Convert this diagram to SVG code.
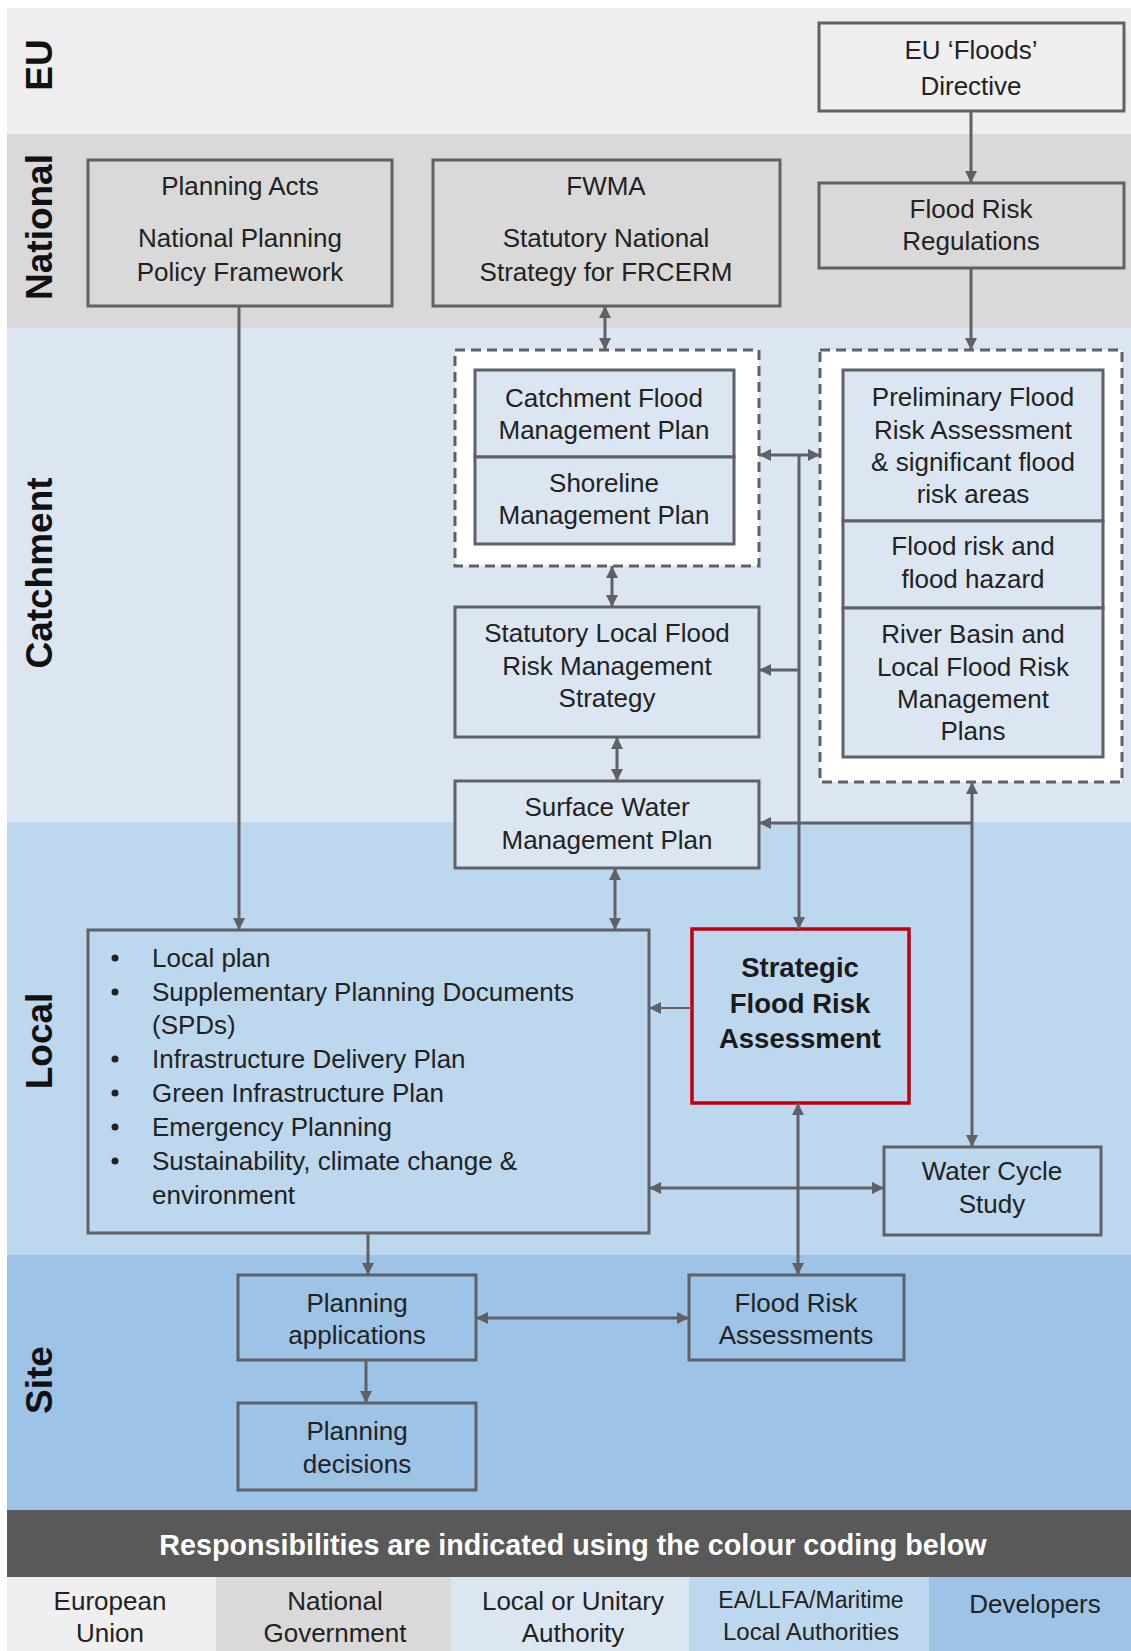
<svg xmlns="http://www.w3.org/2000/svg" width="1131" height="1651" viewBox="0 0 1131 1651">
<style>
text{font-family:"Liberation Sans",Arial,sans-serif;font-size:26px;fill:#222;text-anchor:middle}
.lbl{font-weight:bold;font-size:37px;fill:#111}
.bold{font-weight:bold;font-size:27.5px;fill:#1a1a1a}
.ban{font-weight:bold;font-size:28.7px;fill:#fff}
.left{text-anchor:start}
.box{stroke:#5f6166;stroke-width:3}
.dash{fill:#fff;stroke:#5f6166;stroke-width:3;stroke-dasharray:10 6}
.con line,.con path{stroke:#5f6166;stroke-width:3;fill:none}
</style>
<defs>
<marker id="ah" markerUnits="userSpaceOnUse" markerWidth="12" markerHeight="12" refX="12" refY="6" orient="auto-start-reverse">
<path d="M0,0 L12,6 L0,12 z" fill="#5f6166"/>
</marker>
</defs>
<rect x="0" y="0" width="1131" height="1651" fill="#fff"/>
<g id="bands">
<rect x="7" y="8" width="1124" height="126" fill="#eeeeee"/>
<rect x="7" y="134" width="1124" height="194" fill="#d9d9d9"/>
<rect x="7" y="328" width="1124" height="494" fill="#dce6f2"/>
<rect x="7" y="822" width="1124" height="433" fill="#bdd7ee"/>
<rect x="7" y="1255" width="1124" height="255" fill="#9dc3e6"/>
<text class="lbl" transform="translate(52,65) rotate(-90)">EU</text>
<text class="lbl" transform="translate(52,227) rotate(-90)">National</text>
<text class="lbl" transform="translate(52,573) rotate(-90)">Catchment</text>
<text class="lbl" transform="translate(52,1041) rotate(-90)">Local</text>
<text class="lbl" transform="translate(52,1380) rotate(-90)">Site</text>
</g>
<g id="eu-floods">
<rect class="box" x="819" y="23" width="305" height="88" fill="#efefef"/>
<text x="971" y="59">EU ‘Floods’</text>
<text x="971" y="95">Directive</text>
</g>
<g id="frr">
<rect class="box" x="819" y="183" width="305" height="85" fill="#d9d9d9"/>
<text x="971" y="218">Flood Risk</text>
<text x="971" y="250">Regulations</text>
</g>
<g id="planning-acts">
<rect class="box" x="88" y="160" width="304" height="146" fill="#d9d9d9"/>
<text x="240" y="195">Planning Acts</text>
<text x="240" y="247">National Planning</text>
<text x="240" y="281">Policy Framework</text>
</g>
<g id="fwma">
<rect class="box" x="433" y="160" width="347" height="146" fill="#d9d9d9"/>
<text x="606" y="195">FWMA</text>
<text x="606" y="247">Statutory National</text>
<text x="606" y="281">Strategy for FRCERM</text>
</g>
<g id="cfmp-group">
<rect class="dash" x="455" y="350" width="304" height="216"/>
<rect class="box" x="475" y="370" width="259" height="87" fill="#dce6f2"/>
<rect class="box" x="475" y="457" width="259" height="87" fill="#dce6f2"/>
<text x="604" y="407">Catchment Flood</text>
<text x="604" y="439">Management Plan</text>
<text x="604" y="492">Shoreline</text>
<text x="604" y="524">Management Plan</text>
</g>
<g id="pfra-group">
<rect class="dash" x="820" y="350" width="302" height="432"/>
<rect class="box" x="843" y="370" width="260" height="151" fill="#dce6f2"/>
<rect class="box" x="843" y="521" width="260" height="87" fill="#dce6f2"/>
<rect class="box" x="843" y="608" width="260" height="149" fill="#dce6f2"/>
<text x="973" y="406">Preliminary Flood</text>
<text x="973" y="439">Risk Assessment</text>
<text x="973" y="471">&amp; significant flood</text>
<text x="973" y="503">risk areas</text>
<text x="973" y="555">Flood risk and</text>
<text x="973" y="588">flood hazard</text>
<text x="973" y="643">River Basin and</text>
<text x="973" y="676">Local Flood Risk</text>
<text x="973" y="708">Management</text>
<text x="973" y="740">Plans</text>
</g>
<g id="lfrms">
<rect class="box" x="455" y="607" width="304" height="130" fill="#dce6f2"/>
<text x="607" y="642">Statutory Local Flood</text>
<text x="607" y="675">Risk Management</text>
<text x="607" y="707">Strategy</text>
</g>
<g id="swmp">
<rect class="box" x="455" y="781" width="304" height="87" fill="#dce6f2"/>
<text x="607" y="816">Surface Water</text>
<text x="607" y="849">Management Plan</text>
</g>
<g id="local-plan">
<rect class="box" x="88" y="930" width="561" height="303" fill="#bdd7ee"/>
<g fill="#222">
<circle cx="115" cy="958" r="3.5"/>
<circle cx="115" cy="992" r="3.5"/>
<circle cx="115" cy="1059" r="3.5"/>
<circle cx="115" cy="1093" r="3.5"/>
<circle cx="115" cy="1127" r="3.5"/>
<circle cx="115" cy="1161" r="3.5"/>
</g>
<text class="left" x="152" y="967">Local plan</text>
<text class="left" x="152" y="1001">Supplementary Planning Documents</text>
<text class="left" x="152" y="1034">(SPDs)</text>
<text class="left" x="152" y="1068">Infrastructure Delivery Plan</text>
<text class="left" x="152" y="1102">Green Infrastructure Plan</text>
<text class="left" x="152" y="1136">Emergency Planning</text>
<text class="left" x="152" y="1170">Sustainability, climate change &amp;</text>
<text class="left" x="152" y="1204">environment</text>
</g>
<g id="sfra">
<rect x="692" y="929" width="217" height="174" fill="#bdd7ee" stroke="#c0000c" stroke-width="3.5"/>
<text class="bold" x="800" y="977">Strategic</text>
<text class="bold" x="800" y="1013">Flood Risk</text>
<text class="bold" x="800" y="1048">Assessment</text>
</g>
<g id="wcs">
<rect class="box" x="884" y="1147" width="217" height="88" fill="#bdd7ee"/>
<text x="992" y="1180">Water Cycle</text>
<text x="992" y="1213">Study</text>
</g>
<g id="planning-applications">
<rect class="box" x="238" y="1275" width="238" height="85" fill="#9dc3e6"/>
<text x="357" y="1312">Planning</text>
<text x="357" y="1344">applications</text>
</g>
<g id="fra">
<rect class="box" x="689" y="1275" width="215" height="85" fill="#9dc3e6"/>
<text x="796" y="1312">Flood Risk</text>
<text x="796" y="1344">Assessments</text>
</g>
<g id="planning-decisions">
<rect class="box" x="238" y="1403" width="238" height="87" fill="#9dc3e6"/>
<text x="357" y="1440">Planning</text>
<text x="357" y="1473">decisions</text>
</g>
<g id="connectors" class="con">
<line x1="239" y1="306" x2="239" y2="930" marker-end="url(#ah)"/>
<line x1="971" y1="111" x2="971" y2="183" marker-end="url(#ah)"/>
<line x1="971" y1="268" x2="971" y2="350" marker-end="url(#ah)"/>
<line x1="605" y1="306" x2="605" y2="350" marker-start="url(#ah)" marker-end="url(#ah)"/>
<line x1="759" y1="455" x2="820" y2="455" marker-start="url(#ah)" marker-end="url(#ah)"/>
<line x1="799" y1="455" x2="799" y2="929" marker-end="url(#ah)"/>
<line x1="799" y1="670" x2="759" y2="670" marker-end="url(#ah)"/>
<line x1="612" y1="566" x2="612" y2="607" marker-start="url(#ah)" marker-end="url(#ah)"/>
<line x1="617" y1="737" x2="617" y2="781" marker-start="url(#ah)" marker-end="url(#ah)"/>
<line x1="615" y1="868" x2="615" y2="930" marker-start="url(#ah)" marker-end="url(#ah)"/>
<line x1="972" y1="782" x2="972" y2="1147" marker-start="url(#ah)" marker-end="url(#ah)"/>
<line x1="972" y1="823" x2="759" y2="823" marker-end="url(#ah)"/>
<line x1="692" y1="1008" x2="649" y2="1008" marker-end="url(#ah)" style="stroke-width:2"/>
<line x1="649" y1="1188" x2="884" y2="1188" marker-start="url(#ah)" marker-end="url(#ah)"/>
<line x1="798" y1="1103" x2="798" y2="1275" marker-start="url(#ah)" marker-end="url(#ah)"/>
<line x1="368" y1="1233" x2="368" y2="1275" marker-end="url(#ah)"/>
<line x1="476" y1="1318" x2="689" y2="1318" marker-start="url(#ah)" marker-end="url(#ah)"/>
<line x1="366" y1="1360" x2="366" y2="1403" marker-end="url(#ah)"/>
</g>
<g id="legend">
<rect x="7" y="1510" width="1124" height="67" fill="#595959"/>
<text class="ban" x="573" y="1555">Responsibilities are indicated using the colour coding below</text>
<rect x="7" y="1577" width="209" height="74" fill="#efefef"/>
<rect x="216" y="1577" width="235" height="74" fill="#d9d9d9"/>
<rect x="451" y="1577" width="238" height="74" fill="#dce6f2"/>
<rect x="689" y="1577" width="240" height="74" fill="#bdd7ee"/>
<rect x="929" y="1577" width="202" height="74" fill="#9dc3e6"/>
<text x="110" y="1610">European</text>
<text x="110" y="1642">Union</text>
<text x="335" y="1610">National</text>
<text x="335" y="1642">Government</text>
<text x="573" y="1610">Local or Unitary</text>
<text x="573" y="1642">Authority</text>
<text x="811" y="1608" style="font-size:23px">EA/LLFA/Maritime</text>
<text x="811" y="1640" style="font-size:24px">Local Authorities</text>
<text x="1035" y="1613">Developers</text>
</g>
</svg>
